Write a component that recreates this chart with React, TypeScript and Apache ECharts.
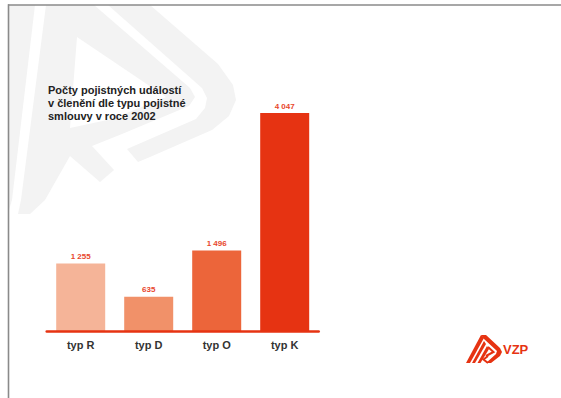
import React, { useEffect, useRef } from "react";
import * as echarts from "echarts";

const categories = ["typ R", "typ D", "typ O", "typ K"];
const values = [1255, 635, 1496, 4047];
const titleLines = [
  "Počty pojistných událostí",
  "v členění dle typu pojistné",
  "smlouvy v roce 2002",
];
const logoText = "VZP";

const barColors = ["#f5b498", "#f19169", "#ec653a", "#e63312"];
const RED = "#e63312";
const WM = "#f3f3f3";
const FONT = "'Liberation Sans', Arial, Helvetica, sans-serif";

const fmt = (v: number) => String(v).replace(/\B(?=(\d{3})+(?!\d))/g, " ");

export default function App() {
  const ref = useRef<HTMLDivElement>(null);
  useEffect(() => {
    if (!ref.current) return;
    const chart = echarts.init(ref.current, undefined, { renderer: "svg" });
    const poly = (points: number[][], fill: string, z = 0) => ({
      type: "polygon",
      z,
      silent: true,
      shape: { points },
      style: { fill },
    });
    const pl = (points: number[][], stroke: string, lineWidth: number, z = 10) => ({
      type: "polyline",
      z,
      silent: true,
      shape: { points },
      style: { stroke, lineWidth, fill: null },
    });
    const option: any = {
      animation: false,
      backgroundColor: "#ffffff",
      title: {
        text: titleLines.join("\n"),
        left: 48,
        top: 83,
        padding: 0,
        textStyle: {
          fontSize: 11,
          fontWeight: "bold",
          color: "#222222",
          lineHeight: 13.3,
          fontFamily: FONT,
        },
      },
      grid: { left: 46.7, right: 242.3, top: 113, bottom: 67 },
      xAxis: {
        type: "category",
        data: categories,
        axisLine: { show: true, lineStyle: { color: RED, width: 2.5 } },
        axisTick: { show: false },
        axisLabel: {
          color: "#333333",
          fontWeight: "bold",
          fontSize: 11,
          margin: 8,
          fontFamily: FONT,
        },
        z: 5,
      },
      yAxis: {
        type: "value",
        min: 0,
        max: 4047,
        show: false,
        splitLine: { show: false },
      },
      series: [
        {
          type: "bar",
          barWidth: 49,
          z: 3,
          data: values.map((v, i) => ({
            value: v,
            itemStyle: { color: barColors[i] },
          })),
          label: {
            show: true,
            position: "top",
            distance: 3,
            formatter: (p: any) => fmt(p.value),
            color: "#e8472d",
            fontSize: 8,
            fontWeight: "bold",
            fontFamily: FONT,
          },
        },
      ],
      graphic: [
        // watermark
        poly([[9, 5], [35, 5], [12, 200], [9, 210]], WM),
        poly(
          [
            [46, 5], [94, 5], [190, 88], [195, 97], [189, 106], [122, 134],
            [92, 146], [114, 170], [100, 182], [70, 156], [45, 200], [30, 214],
            [18, 214], [21, 200],
          ],
          WM
        ),
        poly([[77, 37], [166, 97], [112, 119], [70, 128]], "#ffffff", 1),
        poly(
          [
            [108, 5], [150, 5], [218, 64], [233, 85], [236, 100], [229, 116],
            [212, 130], [150, 157], [138, 162], [127, 149], [196, 119],
            [205, 108], [207, 98], [202, 88],
          ],
          WM
        ),
        // frame
        {
          type: "line",
          z: 20,
          silent: true,
          shape: { x1: 8, y1: 5, x2: 561, y2: 5 },
          style: { stroke: "#8a8a8a", lineWidth: 1.6 },
        },
        {
          type: "line",
          z: 20,
          silent: true,
          shape: { x1: 8.5, y1: 4.2, x2: 8.5, y2: 398 },
          style: { stroke: "#8a8a8a", lineWidth: 1.6 },
        },
        // logo
        poly(
          [
            [481, 335], [486, 335], [500, 348], [502, 352], [500, 356],
            [491, 363], [486, 363], [496, 354], [497, 351], [484, 339],
          ],
          RED,
          10
        ),
        poly([[481, 335], [484, 338], [470, 363], [466, 363]], RED, 10),
        poly([[484, 341], [486, 344], [475, 363], [472, 363]], RED, 10),
        poly([[487, 346], [489, 349], [480.5, 363], [477.5, 363]], RED, 10),
        pl([[488, 347], [493.5, 352], [486, 356]], RED, 2),
        pl([[488, 356], [483.5, 359.5], [488, 363]], RED, 2),
        {
          type: "text",
          z: 10,
          silent: true,
          x: 503,
          y: 349,
          style: {
            text: logoText,
            fill: RED,
            fontSize: 13,
            fontWeight: "bold",
            fontFamily: FONT,
            verticalAlign: "middle",
            align: "left",
          },
        },
      ],
    };
    chart.setOption(option);
    return () => chart.dispose();
  }, []);
  return (
    <div
      ref={ref}
      style={{ position: "fixed", left: 0, top: 0, width: 561, height: 398 }}
    />
  );
}
